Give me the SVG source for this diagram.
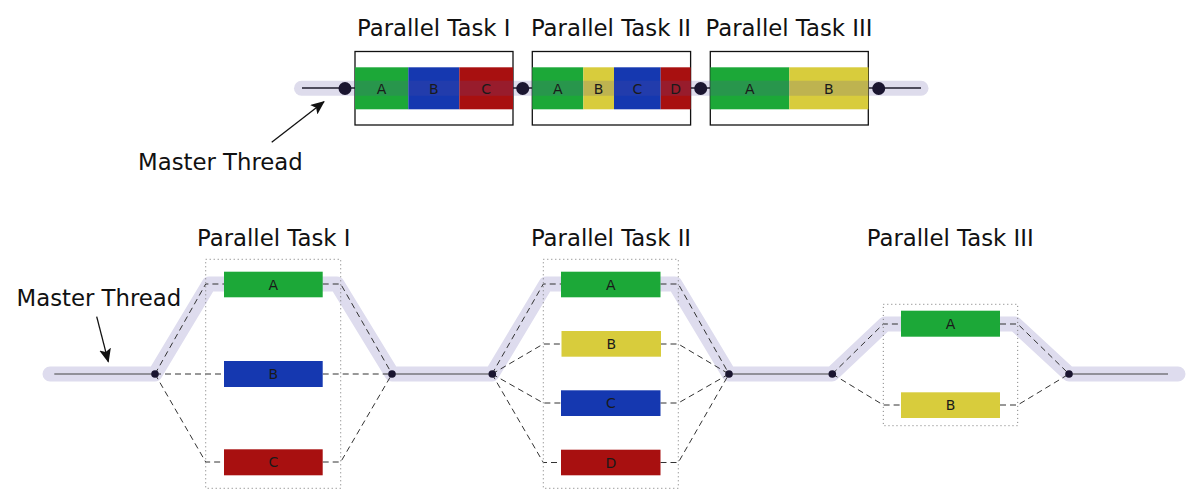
<svg xmlns="http://www.w3.org/2000/svg" width="1200" height="500" viewBox="0 0 1200 500">
<defs>
<style>
.title{font-family:"DejaVu Sans",sans-serif;font-size:22.8px;fill:#111;text-anchor:middle}
.lt{text-anchor:start}
.lbl{font-family:"DejaVu Sans",sans-serif;font-size:14px;fill:#1a1a1a;text-anchor:middle;dominant-baseline:central}
.frame{fill:#fff;stroke:#111;stroke-width:1.3}
.band{fill:none;stroke:#5a4fa0;stroke-opacity:0.2;stroke-width:15;stroke-linecap:round;stroke-linejoin:round}
.bandb{fill:none;stroke:#dedcee;stroke-width:15;stroke-linecap:round;stroke-linejoin:round}
.thr{fill:none;stroke:#111;stroke-width:1.3}
.thrb{fill:none;stroke:#444;stroke-width:1.2}
.dash{fill:none;stroke:#333;stroke-width:1;stroke-dasharray:6,4}
.dot{fill:#1a1530}
.box{fill:none;stroke:#777;stroke-width:1;stroke-dasharray:1,3}
.g{fill:#1ca838}.b{fill:#1538b0}.r{fill:#a81010}.y{fill:#d8cc3c}
.arr{fill:none;stroke:#111;stroke-width:1.3}
</style>
<marker id="ah" markerUnits="userSpaceOnUse" markerWidth="14" markerHeight="12" refX="13" refY="6" orient="auto">
<path d="M0,0 L14,6 L0,12 L3,6 Z" fill="#111"/>
</marker>
</defs>

<!-- TOP: sequential view -->
<g id="top-thread">
<path class="thr" d="M302,88 H355 M513,88 H532 M690,88 H710 M868,88 H921"/>
</g>
<g id="top-task1">
<rect class="frame" x="355" y="51.5" width="158" height="73.5"/>
<rect class="g" x="355" y="67.3" width="53.3" height="42"/>
<rect class="b" x="408.3" y="67.3" width="51" height="42"/>
<rect class="r" x="459.3" y="67.3" width="53.7" height="42"/>
</g>
<g id="top-task2">
<rect class="frame" x="532.3" y="51.5" width="158.3" height="73.5"/>
<rect class="g" x="532.3" y="67.3" width="51" height="42"/>
<rect class="y" x="583.3" y="67.3" width="30.7" height="42"/>
<rect class="b" x="614" y="67.3" width="46.7" height="42"/>
<rect class="r" x="660.7" y="67.3" width="30" height="42"/>
</g>
<g id="top-task3">
<rect class="frame" x="710.3" y="51.5" width="158" height="73.5"/>
<rect class="g" x="710.3" y="67.3" width="79" height="42"/>
<rect class="y" x="789.3" y="67.3" width="79" height="42"/>
</g>
<g id="top-band">
<path class="band" d="M301.5,88.3 H921"/>
</g>
<g id="top-dots">
<circle class="dot" cx="345" cy="88.5" r="6.5"/>
<circle class="dot" cx="522.7" cy="88.5" r="6.5"/>
<circle class="dot" cx="700.7" cy="88.5" r="6.5"/>
<circle class="dot" cx="878.7" cy="88.5" r="6.5"/>
</g>
<g id="top-labels">
<text class="lbl" x="381.6" y="89">A</text>
<text class="lbl" x="433.8" y="89">B</text>
<text class="lbl" x="486.1" y="89">C</text>
<text class="lbl" x="557.8" y="89">A</text>
<text class="lbl" x="598.6" y="89">B</text>
<text class="lbl" x="637.3" y="89">C</text>
<text class="lbl" x="675.7" y="89">D</text>
<text class="lbl" x="749.8" y="89">A</text>
<text class="lbl" x="828.8" y="89">B</text>
<text class="title" x="433.7" y="36">Parallel Task I</text>
<text class="title" x="611" y="36">Parallel Task II</text>
<text class="title" x="789" y="36">Parallel Task III</text>
</g>
<g id="top-master">
<text class="title lt" x="138" y="170">Master Thread</text>
<path class="arr" d="M271.7,142.3 L324,101.7" marker-end="url(#ah)"/>
</g>

<!-- BOTTOM: fork/join view -->
<g id="bottom-band">
<path class="bandb" d="M50,374 H155 L209,284 H337 L392,374 H492 L546,284 H675 L729,374 H832 L885,324 H1015 L1069,374 H1178"/>
</g>
<g id="connectors">
<path class="thrb" d="M54.3,374 H155 M392,374 H492 M729,374 H832 M1069,374 H1168"/>
<path class="dash" d="M155,374 L205.7,284 H224 M155,374 H224 M155,374 L205.7,462 H224"/>
<path class="dash" d="M322.7,284 H340.7 L392,374 M322.7,374 H392 M322.7,462 H340.7 L392,374"/>
<path class="dash" d="M492,374 L543.3,284 H561 M492,374 L543.3,344 H561 M492,374 L543.3,403 H561 M492,374 L543.3,462.5 H561"/>
<path class="dash" d="M660.5,284 H678.3 L729,374 M660.5,344 H678.3 L729,374 M660.5,403 H678.3 L729,374 M660.5,462.5 H678.3 L729,374"/>
<path class="dash" d="M832.3,374 L883.3,324 H901 M832.3,374 L883.3,405 H901"/>
<path class="dash" d="M1000,324 H1017.7 L1069,374 M1000,405 H1017.7 L1069,374"/>
</g>
<g id="task1">
<rect class="box" x="205.7" y="259.3" width="135" height="229"/>
<rect class="g" x="224" y="271.7" width="98.7" height="25.6"/>
<rect class="b" x="224" y="361" width="98.7" height="26"/>
<rect class="r" x="224" y="449.3" width="98.7" height="26"/>
<text class="lbl" x="273.3" y="284.5">A</text>
<text class="lbl" x="273.3" y="374">B</text>
<text class="lbl" x="273.3" y="462.3">C</text>
<text class="title" x="273.7" y="246">Parallel Task I</text>
</g>
<g id="task2">
<rect class="box" x="543.3" y="259.3" width="135" height="229"/>
<rect class="g" x="561" y="271.7" width="99.5" height="25.6"/>
<rect class="y" x="561.5" y="331" width="99.5" height="25.7"/>
<rect class="b" x="561" y="390.3" width="99.5" height="25.7"/>
<rect class="r" x="561" y="449.7" width="99.5" height="25.6"/>
<text class="lbl" x="610.8" y="284.5">A</text>
<text class="lbl" x="611.2" y="344">B</text>
<text class="lbl" x="610.8" y="403.2">C</text>
<text class="lbl" x="610.8" y="462.5">D</text>
<text class="title" x="611" y="246">Parallel Task II</text>
</g>
<g id="task3">
<rect class="box" x="883.3" y="304.3" width="134.4" height="121.4"/>
<rect class="g" x="901" y="310.7" width="99" height="26"/>
<rect class="y" x="901" y="392.3" width="99" height="25.7"/>
<text class="lbl" x="950.5" y="323.7">A</text>
<text class="lbl" x="950.5" y="405.2">B</text>
<text class="title" x="950.2" y="246">Parallel Task III</text>
</g>
<g id="bottom-dots">
<circle class="dot" cx="155" cy="374" r="3.8"/>
<circle class="dot" cx="392" cy="374" r="3.8"/>
<circle class="dot" cx="492.3" cy="374" r="3.8"/>
<circle class="dot" cx="729" cy="374" r="3.8"/>
<circle class="dot" cx="832.3" cy="374" r="3.8"/>
<circle class="dot" cx="1069" cy="374" r="3.8"/>
</g>
<g id="bottom-master">
<text class="title lt" x="16.5" y="306">Master Thread</text>
<path class="arr" d="M96.7,316.7 L108.3,361.7" marker-end="url(#ah)"/>
</g>
</svg>
